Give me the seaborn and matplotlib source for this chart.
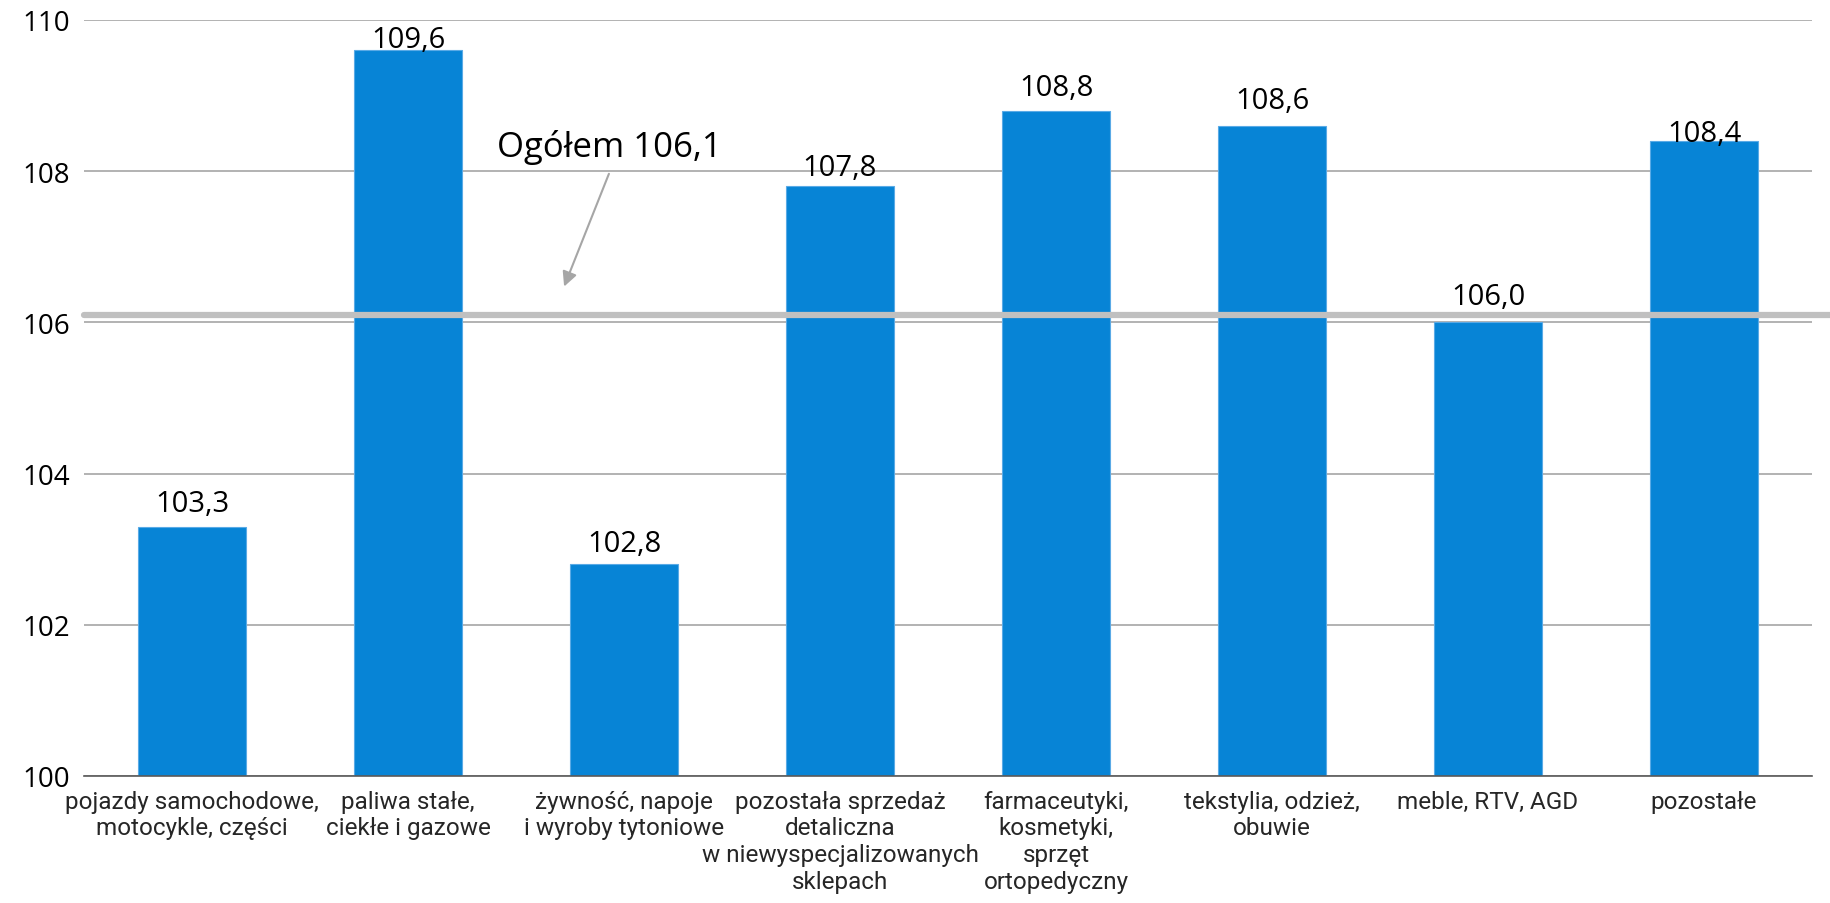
import matplotlib
matplotlib.use("Agg")
import matplotlib.pyplot as plt
import seaborn as sns
import pandas as pd
import numpy as np

categories = [
    "pojazdy samochodowe,\nmotocykle, części",
    "paliwa stałe,\nciekłe i gazowe",
    "żywność, napoje\ni wyroby tytoniowe",
    "pozostała sprzedaż\ndetaliczna\nw niewyspecjalizowanych\nsklepach",
    "farmaceutyki,\nkosmetyki,\nsprzęt\nortopedyczny",
    "tekstylia, odzież,\nobuwie",
    "meble, RTV, AGD",
    "pozostałe",
]
values = [103.3, 109.6, 102.8, 107.8, 108.8, 108.6, 106.0, 108.4]
overall = 106.1
overall_label = "Ogółem 106,1"
yticks = [100, 102, 104, 106, 108, 110]
# label gap above bar top (points), per label
label_gap_pt = [11.5, 2, 9.5, 8.5, 11.5, 13, 13.5, 0]

sns.set_theme(style="white")
plt.rcParams['font.family'] = ['Open Sans', 'DejaVu Sans']

df = pd.DataFrame({"cat": categories, "val": values})

fig = plt.figure(figsize=(18.31, 9.04), dpi=100)
ax = fig.add_axes([84/1831, 1-777/904, 1728/1831, 756/904])

sns.barplot(data=df, x="cat", y="val", color="#0784D6", width=0.5, ax=ax,
            saturation=1, edgecolor="#5AAAE6", linewidth=0.8)

ax.set_ylim(100, 110)
ax.set_xlim(-0.5, len(categories) - 0.5)
ax.set_yticks(yticks)
ax.set_yticklabels([str(t) for t in yticks], fontsize=20, color="#000000")
ax.yaxis.grid(True, color="#A6A6A6", linewidth=1.2)
ax.set_axisbelow(True)
ax.tick_params(axis="y", length=0, pad=10)

# x axis
ax.set_xticks(range(len(categories)))
ax.set_xticklabels(categories, fontsize=17.5, family=['Roboto', 'DejaVu Sans'],
                   linespacing=1.2, va="top")
ax.tick_params(axis="x", which="major", length=0, pad=10)
ax.set_xticks(np.arange(-0.5, len(categories)), minor=True)
ax.tick_params(axis="x", which="minor", length=7, color="#595959", width=1)
ax.set_xlabel("")
ax.set_ylabel("")
for s in ["top", "right", "left"]:
    ax.spines[s].set_visible(False)
ax.spines["bottom"].set_color("#595959")
ax.spines["bottom"].set_linewidth(1.2)

# overall line
ax.axhline(overall, xmin=0, xmax=1.011, color="#C0C0C0", linewidth=4.5, clip_on=False, zorder=3)

# value labels
bars = ax.containers[0]
for patch, v, gap in zip(bars, values, label_gap_pt):
    ax.annotate(f"{v:.1f}".replace(".", ","),
                xy=(patch.get_x() + patch.get_width() / 2, patch.get_height()),
                xytext=(0, gap), textcoords="offset points",
                ha="center", va="baseline", fontsize=21, color="#000000", zorder=5)

# annotation
ax.annotate("", xy=(1.718, 106.44), xytext=(1.935, 108.0),
            arrowprops=dict(arrowstyle="-|>", color="#A6A6A6", lw=1.5, mutation_scale=22))
ax.text(1.93, 108.33, overall_label, fontsize=25, ha="center", va="center", color="#000000")

fig.savefig("out.png", dpi=100)
